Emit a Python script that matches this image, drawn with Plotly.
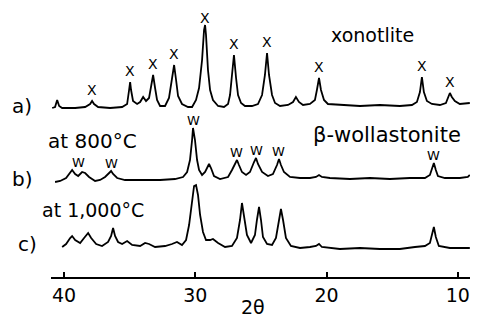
import plotly.graph_objects as go
import numpy as np

# ---- data (2-theta in degrees, intensity in arbitrary units above each baseline)
a_2theta = [40.91, 40.69, 40.53, 40.38, 40.15, 39.16, 38.40, 38.02, 37.87, 37.72, 37.41, 36.50, 35.58, 35.20,
            35.05, 34.97, 34.90, 34.75, 34.44, 34.21, 33.98, 33.76, 33.53, 33.38, 33.22, 33.07, 32.92, 32.69,
            32.31, 32.01, 31.78, 31.62, 31.47, 31.32, 31.02, 30.56, 30.25, 29.95, 29.72, 29.49, 29.34, 29.26,
            29.19, 29.04, 28.88, 28.66, 28.27, 27.82, 27.51, 27.36, 27.21, 27.06, 26.90, 26.75, 26.52, 26.22,
            25.69, 25.23, 24.92, 24.70, 24.54, 24.39, 24.16, 23.93, 23.55, 22.94, 22.56, 22.34, 22.11, 21.80,
            21.27, 20.89, 20.74, 20.58, 20.43, 20.20, 19.90, 18.99, 17.46, 15.94, 14.42, 13.50, 13.12, 12.89,
            12.74, 12.59, 12.36, 11.98, 11.37, 10.91, 10.69, 10.61, 10.46, 10.23, 9.85, 9.09]
a_int = [0, 1, 8, 2, 0, 0, 1, 4, 7, 4, 1, 0, 1, 4,
         18, 26, 18, 7, 4, 6, 11, 7, 10, 20, 33, 20, 8, 2,
         2, 10, 28, 43, 28, 12, 4, 1, 1, 8, 20, 48, 78, 83,
         73, 38, 18, 8, 2, 1, 4, 13, 33, 53, 30, 13, 5, 2,
         2, 4, 13, 33, 55, 33, 13, 5, 2, 3, 6, 11, 6, 3,
         4, 8, 18, 30, 18, 8, 4, 3, 2, 3, 2, 3, 6, 16,
         31, 16, 7, 4, 3, 5, 12, 15, 11, 7, 4, 5]

b_2theta = [40.69, 40.30, 39.85, 39.54, 39.39, 39.16, 38.93, 38.63, 38.40, 38.10, 37.64, 37.26, 36.88, 36.57,
            36.42, 36.27, 35.96, 35.36, 34.21, 32.69, 31.55, 30.94, 30.63, 30.41, 30.25, 30.18, 30.03, 29.87,
            29.72, 29.49, 29.26, 29.04, 28.96, 28.81, 28.58, 28.12, 27.51, 27.21, 26.98, 26.83, 26.68, 26.45,
            26.14, 25.84, 25.53, 25.38, 25.23, 24.92, 24.47, 24.09, 23.78, 23.63, 23.48, 23.25, 22.79, 22.03,
            21.27, 20.81, 20.58, 20.36, 19.75, 18.22, 16.70, 15.18, 13.66, 12.51, 12.13, 11.98, 11.83, 11.68,
            11.52, 10.99, 9.85, 9.24, 9.09]
b_int = [0, 1, 4, 10, 12, 8, 6, 10, 9, 5, 1, 2, 5, 9,
         11, 8, 4, 2, 2, 2, 3, 5, 10, 22, 42, 54, 42, 22,
         12, 7, 10, 16, 18, 14, 6, 3, 5, 12, 19, 22, 17, 10,
         7, 10, 20, 24, 18, 10, 6, 8, 17, 23, 17, 10, 5, 4,
         4, 5, 7, 5, 4, 3, 4, 3, 4, 4, 7, 12, 19, 12,
         6, 4, 4, 5, 7]

c_2theta = [40.15, 39.85, 39.54, 39.39, 39.16, 38.78, 38.48, 38.17, 37.94, 37.56, 37.11, 36.65, 36.42, 36.27,
            36.12, 35.89, 35.58, 35.20, 34.82, 34.21, 33.83, 33.53, 33.07, 32.31, 31.78, 31.40, 31.02, 30.71,
            30.48, 30.25, 30.10, 29.95, 29.80, 29.64, 29.42, 29.19, 28.88, 28.66, 28.27, 27.74, 27.21, 26.83,
            26.60, 26.45, 26.29, 26.07, 25.76, 25.46, 25.31, 25.15, 25.00, 24.85, 24.54, 24.16, 23.86, 23.63,
            23.48, 23.32, 23.10, 22.72, 22.03, 21.27, 20.81, 20.58, 20.36, 18.99, 17.46, 15.94, 14.42, 13.27,
            12.51, 12.13, 11.98, 11.83, 11.68, 11.45, 10.61, 9.09]
c_int = [2, 5, 11, 13, 9, 6, 11, 16, 11, 5, 3, 7, 13, 21,
         13, 7, 5, 8, 4, 3, 6, 5, 2, 3, 5, 7, 4, 9,
         24, 49, 63, 64, 54, 34, 17, 9, 9, 10, 6, 2, 3, 11,
         29, 46, 34, 14, 6, 14, 29, 42, 29, 12, 5, 4, 11, 27,
         40, 29, 11, 3, 1, 2, 3, 5, 2, 0, 1, 0, 0, 2,
         3, 6, 13, 22, 12, 3, 1, 1]

# peak labels: X = xonotlite, W = beta-wollastonite
x_label_2theta = [37.87, 34.97, 33.22, 31.62, 29.26, 27.06, 24.54, 20.58, 12.74, 10.61]
w_label_2theta = [38.93, 36.42, 30.18, 26.83, 25.38, 23.63, 11.83]

tick_vals = [40, 30, 20, 10]
tick_text = ["40", "30", "20", "10"]

# ---- layout constants (page body has an 8 px margin, so the figure is 8 px smaller each way)
PAD = 8
W, H = 478 - PAD, 321 - PAD
Y_TOP = 277 - PAD           # y-range top; plot area is Y_TOP px tall, so 1 unit = 1 px
offsets = {"a": 169, "b": 95, "c": 28}
FONT = "DejaVu Sans"
line_style = dict(color="black", width=1.8)

fig = go.Figure()
series = {"a": (a_2theta, a_int), "b": (b_2theta, b_int), "c": (c_2theta, c_int)}
for k, (xs, ys) in series.items():
    fig.add_trace(go.Scatter(x=xs, y=np.array(ys) + offsets[k], mode="lines",
                             line=line_style, hoverinfo="skip", showlegend=False))

def peak_top(xs, ys, pos, win=0.45):
    xs = np.array(xs); ys = np.array(ys)
    m = np.abs(xs - pos) <= win
    return ys[m].max()

ann = []
for p in x_label_2theta:
    yv = peak_top(a_2theta, a_int, p) + offsets["a"]
    shift = min(11, Y_TOP - yv - 10)   # keep the label box inside the figure
    ann.append(dict(x=p, y=yv, xref="x", yref="y",
                    text="X", showarrow=False, yanchor="middle", yshift=shift,
                    font=dict(family=FONT, size=14, color="black")))
for p in w_label_2theta:
    ann.append(dict(x=p, y=peak_top(b_2theta, b_int, p, 0.6) + offsets["b"], xref="x", yref="y",
                    text="W", showarrow=False, yanchor="middle", yshift=8,
                    font=dict(family=FONT, size=13, color="black")))

texts = [("a)", 22, 106, 20), ("xonotlite", 372, 35, 19), ("at 800°C", 92, 141, 20),
         ("b)", 23, 179, 20), ("β-wollastonite", 387, 135, 21), ("at 1,000°C", 93, 210, 19),
         ("c)", 27, 244, 20), ("2θ", 253, 307, 19)]
for t, px, py, s in texts:
    ann.append(dict(x=(px - PAD) / W, y=1 - (py - PAD) / H, xref="paper", yref="paper", text=t,
                    showarrow=False, xanchor="center", yanchor="middle",
                    font=dict(family=FONT, size=s, color="black")))

fig.update_layout(
    width=W, height=H, margin=dict(l=0, r=0, t=0, b=0),
    paper_bgcolor="white", plot_bgcolor="white",
    annotations=ann,
    xaxis=dict(domain=[(51 - PAD) / W, (471 - PAD) / W], range=[41, 9], showgrid=False, zeroline=False,
               showline=True, linecolor="black", linewidth=2,
               ticks="inside", ticklen=5, tickwidth=2, tickcolor="black",
               tickvals=tick_vals, ticktext=tick_text,
               tickfont=dict(family=FONT, size=19, color="black"), ticklabelstandoff=0),
    yaxis=dict(domain=[(321 - 277) / H, 1], range=[0, Y_TOP], visible=False),
)
fig.write_html("out.html")
